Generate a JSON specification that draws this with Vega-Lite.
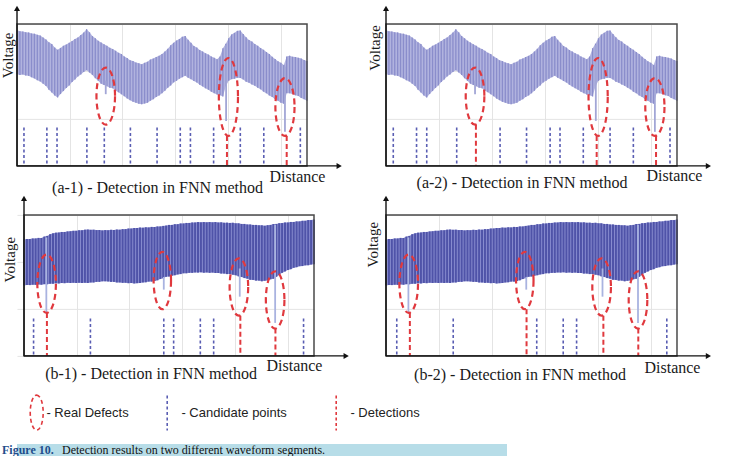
{
  "$schema": "https://vega.github.io/schema/vega-lite/v6.json",
  "background": "white",
  "padding": {"left": -1.0, "top": 4.9, "right": 0, "bottom": 0},
  "spacing": 60,
  "config": {
    "view": {"stroke": null},
    "axis": {"grid": true, "ticks": false, "labels": false, "domain": false, "gridColor": "#e4e4e4", "gridWidth": 1, "titleFont": "Liberation Serif", "titleFontWeight": "normal", "titleFontSize": 16, "titleColor": "#1a1a1a", "titlePadding": 0},
    "title": {"font": "Liberation Serif", "fontSize": 16, "fontWeight": "normal", "color": "#1a1a1a"}
  },
  "datasets": {
    "waveA": [
      {"d":0,"lo":0.645,"hi":0.955},{"d":1,"lo":0.641,"hi":0.949},{"d":2,"lo":0.643,"hi":0.947},{"d":3,"lo":0.636,"hi":0.941},{"d":4,"lo":0.634,"hi":0.940},
      {"d":5,"lo":0.624,"hi":0.933},{"d":6,"lo":0.616,"hi":0.931},{"d":7,"lo":0.603,"hi":0.924},{"d":8,"lo":0.595,"hi":0.919},{"d":9,"lo":0.579,"hi":0.904},
      {"d":10,"lo":0.562,"hi":0.891},{"d":11,"lo":0.537,"hi":0.871},{"d":12,"lo":0.517,"hi":0.858},{"d":13,"lo":0.496,"hi":0.834},{"d":14,"lo":0.482,"hi":0.818},
      {"d":15,"lo":0.506,"hi":0.831},{"d":16,"lo":0.527,"hi":0.846},{"d":17,"lo":0.549,"hi":0.855},{"d":18,"lo":0.567,"hi":0.867},{"d":19,"lo":0.591,"hi":0.879},
      {"d":20,"lo":0.609,"hi":0.894},{"d":21,"lo":0.629,"hi":0.905},{"d":22,"lo":0.644,"hi":0.921},{"d":23,"lo":0.661,"hi":0.939},{"d":24,"lo":0.674,"hi":0.963},
      {"d":25,"lo":0.657,"hi":0.941},{"d":26,"lo":0.641,"hi":0.914},{"d":27,"lo":0.617,"hi":0.899},{"d":28,"lo":0.599,"hi":0.882},{"d":29,"lo":0.579,"hi":0.869},
      {"d":30,"lo":0.569,"hi":0.857},{"d":31,"lo":0.561,"hi":0.846},{"d":32,"lo":0.551,"hi":0.832},{"d":33,"lo":0.546,"hi":0.823},{"d":34,"lo":0.529,"hi":0.811},
      {"d":35,"lo":0.518,"hi":0.797},{"d":36,"lo":0.504,"hi":0.788},{"d":37,"lo":0.491,"hi":0.771},{"d":38,"lo":0.474,"hi":0.759},{"d":39,"lo":0.463,"hi":0.744},
      {"d":40,"lo":0.451,"hi":0.738},{"d":41,"lo":0.445,"hi":0.729},{"d":42,"lo":0.437,"hi":0.723},{"d":43,"lo":0.434,"hi":0.715},{"d":44,"lo":0.439,"hi":0.726},
      {"d":45,"lo":0.445,"hi":0.734},{"d":46,"lo":0.459,"hi":0.749},{"d":47,"lo":0.469,"hi":0.757},{"d":48,"lo":0.485,"hi":0.767},{"d":49,"lo":0.496,"hi":0.775},
      {"d":50,"lo":0.511,"hi":0.788},{"d":51,"lo":0.529,"hi":0.806},{"d":52,"lo":0.550,"hi":0.825},{"d":53,"lo":0.567,"hi":0.849},{"d":54,"lo":0.588,"hi":0.867},
      {"d":55,"lo":0.599,"hi":0.883},{"d":56,"lo":0.614,"hi":0.894},{"d":57,"lo":0.625,"hi":0.909},{"d":58,"lo":0.634,"hi":0.914},{"d":59,"lo":0.621,"hi":0.889},
      {"d":60,"lo":0.611,"hi":0.867},{"d":61,"lo":0.598,"hi":0.844},{"d":62,"lo":0.587,"hi":0.833},{"d":63,"lo":0.571,"hi":0.817},{"d":64,"lo":0.560,"hi":0.806},
      {"d":65,"lo":0.546,"hi":0.793},{"d":66,"lo":0.536,"hi":0.784},{"d":67,"lo":0.522,"hi":0.771},{"d":68,"lo":0.512,"hi":0.761},{"d":69,"lo":0.502,"hi":0.751},
      {"d":70,"lo":0.498,"hi":0.771},{"d":71,"lo":0.489,"hi":0.829},{"d":72,"lo":0.561,"hi":0.861},{"d":73,"lo":0.599,"hi":0.899},{"d":74,"lo":0.611,"hi":0.926},
      {"d":75,"lo":0.614,"hi":0.937},{"d":76,"lo":0.621,"hi":0.951},{"d":77,"lo":0.619,"hi":0.953},{"d":78,"lo":0.609,"hi":0.929},{"d":79,"lo":0.593,"hi":0.906},
      {"d":80,"lo":0.585,"hi":0.887},{"d":81,"lo":0.573,"hi":0.876},{"d":82,"lo":0.564,"hi":0.859},{"d":83,"lo":0.551,"hi":0.846},{"d":84,"lo":0.539,"hi":0.830},
      {"d":85,"lo":0.523,"hi":0.818},{"d":86,"lo":0.511,"hi":0.802},{"d":87,"lo":0.496,"hi":0.788},{"d":88,"lo":0.485,"hi":0.769},{"d":89,"lo":0.469,"hi":0.753},
      {"d":90,"lo":0.458,"hi":0.737},{"d":91,"lo":0.445,"hi":0.726},{"d":92,"lo":0.437,"hi":0.711},{"d":93,"lo":0.511,"hi":0.771},{"d":94,"lo":0.511,"hi":0.776},
      {"d":95,"lo":0.506,"hi":0.769},{"d":96,"lo":0.497,"hi":0.767},{"d":97,"lo":0.493,"hi":0.761},{"d":98,"lo":0.479,"hi":0.756},{"d":99,"lo":0.469,"hi":0.745},
      {"d":100,"lo":0.458,"hi":0.739}
    ],
    "waveB": [
      {"d":0,"lo":0.500,"hi":0.825},{"d":1,"lo":0.503,"hi":0.829},{"d":2,"lo":0.502,"hi":0.829},{"d":3,"lo":0.505,"hi":0.833},{"d":4,"lo":0.504,"hi":0.833},
      {"d":5,"lo":0.507,"hi":0.837},{"d":6,"lo":0.505,"hi":0.836},{"d":7,"lo":0.509,"hi":0.846},{"d":8,"lo":0.508,"hi":0.851},{"d":9,"lo":0.512,"hi":0.863},
      {"d":10,"lo":0.512,"hi":0.869},{"d":11,"lo":0.515,"hi":0.874},{"d":12,"lo":0.514,"hi":0.875},{"d":13,"lo":0.517,"hi":0.879},{"d":14,"lo":0.516,"hi":0.879},
      {"d":15,"lo":0.519,"hi":0.883},{"d":16,"lo":0.517,"hi":0.884},{"d":17,"lo":0.519,"hi":0.887},{"d":18,"lo":0.517,"hi":0.887},{"d":19,"lo":0.519,"hi":0.891},
      {"d":20,"lo":0.517,"hi":0.891},{"d":21,"lo":0.519,"hi":0.895},{"d":22,"lo":0.517,"hi":0.896},{"d":23,"lo":0.521,"hi":0.894},{"d":24,"lo":0.521,"hi":0.895},
      {"d":25,"lo":0.525,"hi":0.892},{"d":26,"lo":0.525,"hi":0.893},{"d":27,"lo":0.529,"hi":0.890},{"d":28,"lo":0.529,"hi":0.892},{"d":29,"lo":0.528,"hi":0.891},
      {"d":30,"lo":0.525,"hi":0.894},{"d":31,"lo":0.525,"hi":0.893},{"d":32,"lo":0.521,"hi":0.896},{"d":33,"lo":0.521,"hi":0.895},{"d":34,"lo":0.518,"hi":0.899},
      {"d":35,"lo":0.519,"hi":0.899},{"d":36,"lo":0.516,"hi":0.903},{"d":37,"lo":0.517,"hi":0.903},{"d":38,"lo":0.514,"hi":0.907},{"d":39,"lo":0.516,"hi":0.907},
      {"d":40,"lo":0.517,"hi":0.910},{"d":41,"lo":0.521,"hi":0.909},{"d":42,"lo":0.522,"hi":0.912},{"d":43,"lo":0.527,"hi":0.911},{"d":44,"lo":0.527,"hi":0.915},
      {"d":45,"lo":0.531,"hi":0.914},{"d":46,"lo":0.536,"hi":0.918},{"d":47,"lo":0.545,"hi":0.918},{"d":48,"lo":0.551,"hi":0.922},{"d":49,"lo":0.561,"hi":0.924},
      {"d":50,"lo":0.563,"hi":0.929},{"d":51,"lo":0.569,"hi":0.929},{"d":52,"lo":0.572,"hi":0.934},{"d":53,"lo":0.578,"hi":0.934},{"d":54,"lo":0.580,"hi":0.939},
      {"d":55,"lo":0.586,"hi":0.939},{"d":56,"lo":0.586,"hi":0.943},{"d":57,"lo":0.589,"hi":0.943},{"d":58,"lo":0.589,"hi":0.946},{"d":59,"lo":0.592,"hi":0.946},
      {"d":60,"lo":0.591,"hi":0.949},{"d":61,"lo":0.593,"hi":0.947},{"d":62,"lo":0.590,"hi":0.949},{"d":63,"lo":0.592,"hi":0.947},{"d":64,"lo":0.589,"hi":0.949},
      {"d":65,"lo":0.591,"hi":0.947},{"d":66,"lo":0.588,"hi":0.949},{"d":67,"lo":0.588,"hi":0.946},{"d":68,"lo":0.584,"hi":0.947},{"d":69,"lo":0.584,"hi":0.944},
      {"d":70,"lo":0.580,"hi":0.945},{"d":71,"lo":0.580,"hi":0.943},{"d":72,"lo":0.576,"hi":0.944},{"d":73,"lo":0.572,"hi":0.940},{"d":74,"lo":0.564,"hi":0.940},
      {"d":75,"lo":0.560,"hi":0.936},{"d":76,"lo":0.552,"hi":0.936},{"d":77,"lo":0.548,"hi":0.932},{"d":78,"lo":0.540,"hi":0.932},{"d":79,"lo":0.539,"hi":0.929},
      {"d":80,"lo":0.534,"hi":0.929},{"d":81,"lo":0.534,"hi":0.926},{"d":82,"lo":0.529,"hi":0.926},{"d":83,"lo":0.533,"hi":0.923},{"d":84,"lo":0.535,"hi":0.927},
      {"d":85,"lo":0.543,"hi":0.929},{"d":86,"lo":0.547,"hi":0.935},{"d":87,"lo":0.561,"hi":0.936},{"d":88,"lo":0.574,"hi":0.941},{"d":89,"lo":0.589,"hi":0.942},
      {"d":90,"lo":0.599,"hi":0.946},{"d":91,"lo":0.609,"hi":0.946},{"d":92,"lo":0.615,"hi":0.950},{"d":93,"lo":0.625,"hi":0.950},{"d":94,"lo":0.629,"hi":0.954},
      {"d":95,"lo":0.636,"hi":0.954},{"d":96,"lo":0.637,"hi":0.958},{"d":97,"lo":0.642,"hi":0.958},{"d":98,"lo":0.643,"hi":0.963},{"d":99,"lo":0.648,"hi":0.963},
      {"d":100,"lo":0.650,"hi":0.967}
    ],
    "spikesA": [{"d":30.6,"lo":0.505,"hi":0.6},{"d":72.1,"lo":0.317,"hi":0.85},{"d":92.4,"lo":0.24,"hi":0.7}],
    "spikesB": [{"d":7.7,"lo":0.31,"hi":0.84},{"d":48.2,"lo":0.47,"hi":0.56},{"d":74.4,"lo":0.42,"hi":0.62},{"d":86.6,"lo":0.234,"hi":0.93}],
    "ringsA": [
      {"id":1,"k":0,"d":30.6,"v":0.692},{"id":1,"k":1,"d":33.8,"v":0.491},{"id":1,"k":2,"d":30.6,"v":0.29},{"id":1,"k":3,"d":27.4,"v":0.491},
      {"id":2,"k":0,"d":72.9,"v":0.76},{"id":2,"k":1,"d":76.2,"v":0.486},{"id":2,"k":2,"d":72.9,"v":0.211},{"id":2,"k":3,"d":69.6,"v":0.486},
      {"id":3,"k":0,"d":92.4,"v":0.618},{"id":3,"k":1,"d":95.7,"v":0.415},{"id":3,"k":2,"d":92.4,"v":0.211},{"id":3,"k":3,"d":89.1,"v":0.415}
    ],
    "ringsB": [
      {"id":1,"k":0,"d":7.8,"v":0.719,"kind":"Real Defects"},{"id":1,"k":1,"d":11.0,"v":0.512,"kind":"Real Defects"},{"id":1,"k":2,"d":7.8,"v":0.305,"kind":"Real Defects"},{"id":1,"k":3,"d":4.6,"v":0.512,"kind":"Real Defects"},
      {"id":2,"k":0,"d":47.7,"v":0.738,"kind":"Real Defects"},{"id":2,"k":1,"d":50.7,"v":0.534,"kind":"Real Defects"},{"id":2,"k":2,"d":47.7,"v":0.331,"kind":"Real Defects"},{"id":2,"k":3,"d":44.7,"v":0.534,"kind":"Real Defects"},
      {"id":3,"k":0,"d":74.1,"v":0.692,"kind":"Real Defects"},{"id":3,"k":1,"d":77.3,"v":0.488,"kind":"Real Defects"},{"id":3,"k":2,"d":74.1,"v":0.285,"kind":"Real Defects"},{"id":3,"k":3,"d":70.9,"v":0.488,"kind":"Real Defects"},
      {"id":4,"k":0,"d":86.6,"v":0.6,"kind":"Real Defects"},{"id":4,"k":1,"d":89.8,"v":0.397,"kind":"Real Defects"},{"id":4,"k":2,"d":86.6,"v":0.194,"kind":"Real Defects"},{"id":4,"k":3,"d":83.4,"v":0.397,"kind":"Real Defects"}
    ],
    "pointsA1": [
      {"d":2.4,"kind":"Candidate points"},{"d":10.3,"kind":"Candidate points"},{"d":13.8,"kind":"Candidate points"},{"d":24.1,"kind":"Candidate points"},
      {"d":30.1,"kind":"Candidate points"},{"d":39.1,"kind":"Candidate points"},{"d":48.3,"kind":"Candidate points"},{"d":56.3,"kind":"Candidate points"},
      {"d":59.8,"kind":"Candidate points"},{"d":67.8,"kind":"Candidate points"},{"d":77.0,"kind":"Candidate points"},{"d":85.1,"kind":"Candidate points"},
      {"d":97.7,"kind":"Candidate points"},
      {"d":72.4,"kind":"Detections","reach":0.211},{"d":93.0,"kind":"Detections","reach":0.211}
    ],
    "pointsA2": [
      {"d":2.5,"kind":"Candidate points"},{"d":10.5,"kind":"Candidate points"},{"d":14.0,"kind":"Candidate points"},{"d":24.3,"kind":"Candidate points"},
      {"d":39.2,"kind":"Candidate points"},{"d":48.3,"kind":"Candidate points"},{"d":56.4,"kind":"Candidate points"},{"d":59.8,"kind":"Candidate points"},
      {"d":67.8,"kind":"Candidate points"},{"d":77.0,"kind":"Candidate points"},{"d":85.0,"kind":"Candidate points"},{"d":97.6,"kind":"Candidate points"},
      {"d":30.9,"kind":"Detections","reach":0.29},{"d":72.4,"kind":"Detections","reach":0.211},{"d":92.8,"kind":"Detections","reach":0.211}
    ],
    "pointsB1": [
      {"d":3.3,"kind":"Candidate points"},{"d":22.9,"kind":"Candidate points"},{"d":48.2,"kind":"Candidate points"},{"d":51.6,"kind":"Candidate points"},
      {"d":60.8,"kind":"Candidate points"},{"d":65.4,"kind":"Candidate points"},{"d":96.4,"kind":"Candidate points"},
      {"d":7.9,"kind":"Detections","reach":0.305},{"d":74.6,"kind":"Detections","reach":0.285},{"d":86.7,"kind":"Detections","reach":0.194}
    ],
    "pointsB2": [
      {"d":3.7,"kind":"Candidate points"},{"d":23.1,"kind":"Candidate points"},{"d":51.8,"kind":"Candidate points"},{"d":60.9,"kind":"Candidate points"},
      {"d":65.5,"kind":"Candidate points"},{"d":96.5,"kind":"Candidate points"},
      {"d":8.2,"kind":"Detections","reach":0.305},{"d":48.3,"kind":"Detections","reach":0.331},{"d":74.7,"kind":"Detections","reach":0.285},{"d":86.7,"kind":"Detections","reach":0.194}
    ]
  },
  "vconcat": [
    {
      "columns": 2,
      "bounds": "flush",
      "spacing": {"row": 49, "column": 72},
      "concat": [
        {
          "width": 290, "height": 142,
          "title": {"text": "(a-1) - Detection in FNN method", "orient": "bottom", "anchor": "middle", "frame": "group", "offset": 8, "dx": -4.5, "baseline": "alphabetic"},
          "layer": [
            {"data": {"name": "waveA"}, "mark": {"type": "area", "color": "#b1b3df", "opacity": 1},
             "encoding": {"x": {"field": "d", "type": "quantitative", "scale": {"domain": [0, 100], "nice": false, "zero": false},
               "axis": {"title": "Distance", "values": [0, 9.09, 18.18, 27.27, 36.36, 45.45, 54.55, 63.64, 72.73, 81.82, 90.91, 100], "titleX": 252, "titleY": 16, "titleAlign": "left", "titleBaseline": "alphabetic"}},
               "y": {"field": "lo", "type": "quantitative", "scale": {"domain": [0, 1], "nice": false, "zero": false},
               "axis": {"title": "Voltage", "values": [0, 0.0833, 0.1667, 0.25, 0.3333, 0.4167, 0.5, 0.5833, 0.6667, 0.75, 0.8333, 0.9167, 1], "titleX": -5, "titleY": 31, "titleAngle": 270, "titleAlign": "center", "titleBaseline": "alphabetic", "titleFontSize": 15}},
               "y2": {"field": "hi"}}},
            {"data": {"name": "waveA"}, "mark": {"type": "rule", "color": "#8a8dcb", "strokeWidth": 1.3},
             "encoding": {"x": {"field": "d", "type": "quantitative"}, "y": {"field": "lo", "type": "quantitative"}, "y2": {"field": "hi"}}},
            {"data": {"name": "spikesA"}, "mark": {"type": "rule", "color": "#a2a6d6", "strokeWidth": 1.8},
             "encoding": {"x": {"field": "d", "type": "quantitative"}, "y": {"field": "lo", "type": "quantitative"}, "y2": {"field": "hi"}}},
            {"data": {"name": "pointsA1"}, "transform": [{"filter": "datum.kind === 'Candidate points'"}],
             "mark": {"type": "rule", "color": "#5a5eb3", "strokeWidth": 1.6, "strokeDash": [3, 2.5]},
             "encoding": {"x": {"field": "d", "type": "quantitative"}, "y": {"datum": 0.27, "type": "quantitative"}, "y2": {"datum": 0}}},
            {"data": {"name": "pointsA1"}, "transform": [{"filter": "datum.kind === 'Detections'"}],
             "mark": {"type": "rule", "color": "#e0393e", "strokeWidth": 2, "strokeDash": [5, 3]},
             "encoding": {"x": {"field": "d", "type": "quantitative"}, "y": {"field": "reach", "type": "quantitative"}, "y2": {"datum": 0}}},
            {"data": {"name": "ringsA"}, "mark": {"type": "line", "interpolate": "cardinal-closed", "tension": -0.656, "color": "#e0393e", "strokeWidth": 2.2, "strokeDash": [6, 4]},
             "encoding": {"x": {"field": "d", "type": "quantitative"}, "y": {"field": "v", "type": "quantitative"}, "detail": {"field": "id", "type": "nominal"}, "order": {"field": "k", "type": "quantitative"}}},
            {"data": {"values": [{"edge": "box"}]}, "mark": {"type": "rect", "filled": false, "color": "#4a4a4a", "strokeWidth": 1.5},
             "encoding": {"x": {"datum": 0, "type": "quantitative"}, "x2": {"datum": 100}, "y": {"datum": 0, "type": "quantitative"}, "y2": {"datum": 1}}},
            {"data": {"values": [{"edge": "v"}]}, "mark": {"type": "rule", "color": "#111111", "strokeWidth": 1.4},
             "encoding": {"x": {"datum": 0, "type": "quantitative"}, "y": {"datum": 0, "type": "quantitative"}, "y2": {"datum": 1.109}}},
            {"data": {"values": [{"edge": "h"}]}, "mark": {"type": "rule", "color": "#111111", "strokeWidth": 1.4},
             "encoding": {"x": {"datum": 0, "type": "quantitative"}, "x2": {"datum": 111.1}, "y": {"datum": 0, "type": "quantitative"}}},
            {"data": {"values": [{"edge": "v"}]}, "mark": {"type": "point", "shape": "triangle-up", "filled": true, "color": "#111111", "size": 36, "opacity": 1},
             "encoding": {"x": {"datum": 0, "type": "quantitative"}, "y": {"datum": 1.109, "type": "quantitative"}}},
            {"data": {"values": [{"edge": "h"}]}, "mark": {"type": "point", "shape": "triangle-right", "filled": true, "color": "#111111", "size": 36, "opacity": 1},
             "encoding": {"x": {"datum": 111.1, "type": "quantitative"}, "y": {"datum": 0, "type": "quantitative"}}}
          ]
        },
        {
          "width": 291, "height": 142,
          "title": {"text": "(a-2) - Detection in FNN method", "orient": "bottom", "anchor": "middle", "frame": "group", "offset": 4, "dx": -9.5, "baseline": "alphabetic"},
          "layer": [
            {"data": {"name": "waveA"}, "mark": {"type": "area", "color": "#b1b3df", "opacity": 1},
             "encoding": {"x": {"field": "d", "type": "quantitative", "scale": {"domain": [0, 100], "nice": false, "zero": false},
               "axis": {"title": "Distance", "values": [0, 9.09, 18.18, 27.27, 36.36, 45.45, 54.55, 63.64, 72.73, 81.82, 90.91, 100], "titleX": 260, "titleY": 15, "titleAlign": "left", "titleBaseline": "alphabetic"}},
               "y": {"field": "lo", "type": "quantitative", "scale": {"domain": [0, 1], "nice": false, "zero": false},
               "axis": {"title": "Voltage", "values": [0, 0.0833, 0.1667, 0.25, 0.3333, 0.4167, 0.5, 0.5833, 0.6667, 0.75, 0.8333, 0.9167, 1], "titleX": -6.7, "titleY": 23.5, "titleAngle": 270, "titleAlign": "center", "titleBaseline": "alphabetic", "titleFontSize": 15}},
               "y2": {"field": "hi"}}},
            {"data": {"name": "waveA"}, "mark": {"type": "rule", "color": "#8a8dcb", "strokeWidth": 1.3},
             "encoding": {"x": {"field": "d", "type": "quantitative"}, "y": {"field": "lo", "type": "quantitative"}, "y2": {"field": "hi"}}},
            {"data": {"name": "spikesA"}, "mark": {"type": "rule", "color": "#a2a6d6", "strokeWidth": 1.8},
             "encoding": {"x": {"field": "d", "type": "quantitative"}, "y": {"field": "lo", "type": "quantitative"}, "y2": {"field": "hi"}}},
            {"data": {"name": "pointsA2"}, "transform": [{"filter": "datum.kind === 'Candidate points'"}],
             "mark": {"type": "rule", "color": "#5a5eb3", "strokeWidth": 1.6, "strokeDash": [3, 2.5]},
             "encoding": {"x": {"field": "d", "type": "quantitative"}, "y": {"datum": 0.27, "type": "quantitative"}, "y2": {"datum": 0}}},
            {"data": {"name": "pointsA2"}, "transform": [{"filter": "datum.kind === 'Detections'"}],
             "mark": {"type": "rule", "color": "#e0393e", "strokeWidth": 2, "strokeDash": [5, 3]},
             "encoding": {"x": {"field": "d", "type": "quantitative"}, "y": {"field": "reach", "type": "quantitative"}, "y2": {"datum": 0}}},
            {"data": {"name": "ringsA"}, "mark": {"type": "line", "interpolate": "cardinal-closed", "tension": -0.656, "color": "#e0393e", "strokeWidth": 2.2, "strokeDash": [6, 4]},
             "encoding": {"x": {"field": "d", "type": "quantitative"}, "y": {"field": "v", "type": "quantitative"}, "detail": {"field": "id", "type": "nominal"}, "order": {"field": "k", "type": "quantitative"}}},
            {"data": {"values": [{"edge": "box"}]}, "mark": {"type": "rect", "filled": false, "color": "#4a4a4a", "strokeWidth": 1.5},
             "encoding": {"x": {"datum": 0, "type": "quantitative"}, "x2": {"datum": 100}, "y": {"datum": 0, "type": "quantitative"}, "y2": {"datum": 1}}},
            {"data": {"values": [{"edge": "v"}]}, "mark": {"type": "rule", "color": "#111111", "strokeWidth": 1.4},
             "encoding": {"x": {"datum": 0, "type": "quantitative"}, "y": {"datum": 0, "type": "quantitative"}, "y2": {"datum": 1.109}}},
            {"data": {"values": [{"edge": "h"}]}, "mark": {"type": "rule", "color": "#111111", "strokeWidth": 1.4},
             "encoding": {"x": {"datum": 0, "type": "quantitative"}, "x2": {"datum": 110.8}, "y": {"datum": 0, "type": "quantitative"}}},
            {"data": {"values": [{"edge": "v"}]}, "mark": {"type": "point", "shape": "triangle-up", "filled": true, "color": "#111111", "size": 36, "opacity": 1},
             "encoding": {"x": {"datum": 0, "type": "quantitative"}, "y": {"datum": 1.109, "type": "quantitative"}}},
            {"data": {"values": [{"edge": "h"}]}, "mark": {"type": "point", "shape": "triangle-right", "filled": true, "color": "#111111", "size": 36, "opacity": 1},
             "encoding": {"x": {"datum": 110.8, "type": "quantitative"}, "y": {"datum": 0, "type": "quantitative"}}}
          ]
        },
        {
          "width": 297, "height": 141,
          "title": {"text": "(b-1) - Detection in FNN method", "orient": "bottom", "anchor": "middle", "frame": "group", "offset": 6, "dx": -14.5, "baseline": "alphabetic"},
          "layer": [
            {"data": {"name": "waveB"}, "mark": {"type": "area", "color": "#8c90d2", "opacity": 1},
             "encoding": {"x": {"field": "d", "type": "quantitative", "scale": {"domain": [-2.414, 100], "nice": false, "zero": false},
               "axis": {"title": "Distance", "values": [0, 9.09, 18.18, 27.27, 36.36, 45.45, 54.55, 63.64, 72.73, 81.82, 90.91, 100], "titleX": 249, "titleY": 14.5, "titleAlign": "left", "titleBaseline": "alphabetic"}},
               "y": {"field": "lo", "type": "quantitative", "scale": {"domain": [0, 1], "nice": false, "zero": false},
               "axis": {"title": "Voltage", "values": [0, 0.0833, 0.1667, 0.25, 0.3333, 0.4167, 0.5, 0.5833, 0.6667, 0.75, 0.8333, 0.9167, 1], "titleX": -2.7, "titleY": 44.3, "titleAngle": 270, "titleAlign": "center", "titleBaseline": "alphabetic", "titleFontSize": 15}},
               "y2": {"field": "hi"}}},
            {"data": {"name": "waveB"}, "mark": {"type": "rule", "color": "#4f53a8", "strokeWidth": 2},
             "encoding": {"x": {"field": "d", "type": "quantitative"}, "y": {"field": "lo", "type": "quantitative"}, "y2": {"field": "hi"}}},
            {"data": {"name": "spikesB"}, "mark": {"type": "rule", "color": "#a9b3e0", "strokeWidth": 1.8},
             "encoding": {"x": {"field": "d", "type": "quantitative"}, "y": {"field": "lo", "type": "quantitative"}, "y2": {"field": "hi"}}},
            {"data": {"name": "pointsB1"}, "transform": [{"filter": "datum.kind === 'Candidate points'"}],
             "mark": {"type": "rule", "color": "#5a5eb3", "strokeWidth": 1.6, "strokeDash": [3, 2.5]},
             "encoding": {"x": {"field": "d", "type": "quantitative"}, "y": {"datum": 0.265, "type": "quantitative"}, "y2": {"datum": 0}}},
            {"data": {"name": "pointsB1"}, "transform": [{"filter": "datum.kind === 'Detections'"}],
             "mark": {"type": "rule", "strokeWidth": 2, "strokeDash": [5, 3]},
             "encoding": {"x": {"field": "d", "type": "quantitative"}, "y": {"field": "reach", "type": "quantitative"}, "y2": {"datum": 0},
               "color": {"field": "kind", "type": "nominal",
                 "scale": {"domain": ["Candidate points", "Detections"], "range": ["#5a5eb3", "#e0393e"]},
                 "legend": {"orient": "none", "legendX": 131.7, "legendY": 370.2, "direction": "horizontal", "title": null, "padding": 0,
                   "symbolType": "M0,-1L0,1", "symbolSize": 1225, "symbolStrokeWidth": 1.6, "symbolDash": [3, 2.5], "symbolFillColor": "transparent",
                   "labelFont": "Liberation Sans", "labelFontSize": 13, "labelColor": "#222222", "labelOffset": -4.3, "labelLimit": 400,
                   "columnPadding": 30, "labelExpr": "'- ' + datum.label"}}}},
            {"data": {"name": "ringsB"}, "mark": {"type": "line", "interpolate": "cardinal-closed", "tension": -0.656, "strokeWidth": 2.2, "strokeDash": [6, 4]},
             "encoding": {"x": {"field": "d", "type": "quantitative"}, "y": {"field": "v", "type": "quantitative"}, "detail": {"field": "id", "type": "nominal"}, "order": {"field": "k", "type": "quantitative"},
               "stroke": {"field": "kind", "type": "nominal",
                 "scale": {"domain": ["Real Defects"], "range": ["#e0393e"]},
                 "legend": {"orient": "none", "legendX": 1.2, "legendY": 370.2, "title": null, "padding": 0,
                   "symbolType": "M0,-1A0.37,1 0 1,1 0,1A0.37,1 0 1,1 0,-1Z", "symbolSize": 1225, "symbolStrokeWidth": 1.6, "symbolDash": [4, 3], "symbolFillColor": "transparent",
                   "labelFont": "Liberation Sans", "labelFontSize": 13, "labelColor": "#222222", "labelOffset": -8.8, "labelLimit": 400,
                   "labelExpr": "'- ' + datum.label"}}}},
            {"data": {"values": [{"edge": "box"}]}, "mark": {"type": "rect", "filled": false, "color": "#4a4a4a", "strokeWidth": 1.5},
             "encoding": {"x": {"datum": 0, "type": "quantitative"}, "x2": {"datum": 100}, "y": {"datum": 0, "type": "quantitative"}, "y2": {"datum": 1}}},
            {"data": {"values": [{"edge": "v"}]}, "mark": {"type": "rule", "color": "#111111", "strokeWidth": 1.4},
             "encoding": {"x": {"datum": 0, "type": "quantitative"}, "y": {"datum": 0, "type": "quantitative"}, "y2": {"datum": 1.117}}},
            {"data": {"values": [{"edge": "h"}]}, "mark": {"type": "rule", "color": "#111111", "strokeWidth": 1.4},
             "encoding": {"x": {"datum": 0, "type": "quantitative"}, "x2": {"datum": 111.1}, "y": {"datum": 0, "type": "quantitative"}}},
            {"data": {"values": [{"edge": "v"}]}, "mark": {"type": "point", "shape": "triangle-up", "filled": true, "color": "#111111", "size": 36, "opacity": 1},
             "encoding": {"x": {"datum": 0, "type": "quantitative"}, "y": {"datum": 1.117, "type": "quantitative"}}},
            {"data": {"values": [{"edge": "h"}]}, "mark": {"type": "point", "shape": "triangle-right", "filled": true, "color": "#111111", "size": 36, "opacity": 1},
             "encoding": {"x": {"datum": 111.1, "type": "quantitative"}, "y": {"datum": 0, "type": "quantitative"}}}
          ]
        },
        {
          "width": 291, "height": 141,
          "title": {"text": "(b-2) - Detection in FNN method", "orient": "bottom", "anchor": "middle", "frame": "group", "offset": 5, "dx": -11.5, "baseline": "alphabetic"},
          "layer": [
            {"data": {"name": "waveB"}, "mark": {"type": "area", "color": "#8c90d2", "opacity": 1},
             "encoding": {"x": {"field": "d", "type": "quantitative", "scale": {"domain": [0, 100], "nice": false, "zero": false},
               "axis": {"title": "Distance", "values": [0, 9.09, 18.18, 27.27, 36.36, 45.45, 54.55, 63.64, 72.73, 81.82, 90.91, 100], "titleX": 258, "titleY": 16.5, "titleAlign": "left", "titleBaseline": "alphabetic"}},
               "y": {"field": "lo", "type": "quantitative", "scale": {"domain": [0, 1], "nice": false, "zero": false},
               "axis": {"title": "Voltage", "values": [0, 0.0833, 0.1667, 0.25, 0.3333, 0.4167, 0.5, 0.5833, 0.6667, 0.75, 0.8333, 0.9167, 1], "titleX": -8.3, "titleY": 29.3, "titleAngle": 270, "titleAlign": "center", "titleBaseline": "alphabetic", "titleFontSize": 15}},
               "y2": {"field": "hi"}}},
            {"data": {"name": "waveB"}, "mark": {"type": "rule", "color": "#4f53a8", "strokeWidth": 2},
             "encoding": {"x": {"field": "d", "type": "quantitative"}, "y": {"field": "lo", "type": "quantitative"}, "y2": {"field": "hi"}}},
            {"data": {"name": "spikesB"}, "mark": {"type": "rule", "color": "#a9b3e0", "strokeWidth": 1.8},
             "encoding": {"x": {"field": "d", "type": "quantitative"}, "y": {"field": "lo", "type": "quantitative"}, "y2": {"field": "hi"}}},
            {"data": {"name": "pointsB2"}, "transform": [{"filter": "datum.kind === 'Candidate points'"}],
             "mark": {"type": "rule", "color": "#5a5eb3", "strokeWidth": 1.6, "strokeDash": [3, 2.5]},
             "encoding": {"x": {"field": "d", "type": "quantitative"}, "y": {"datum": 0.265, "type": "quantitative"}, "y2": {"datum": 0}}},
            {"data": {"name": "pointsB2"}, "transform": [{"filter": "datum.kind === 'Detections'"}],
             "mark": {"type": "rule", "color": "#e0393e", "strokeWidth": 2, "strokeDash": [5, 3]},
             "encoding": {"x": {"field": "d", "type": "quantitative"}, "y": {"field": "reach", "type": "quantitative"}, "y2": {"datum": 0}}},
            {"data": {"name": "ringsB"}, "mark": {"type": "line", "interpolate": "cardinal-closed", "tension": -0.656, "color": "#e0393e", "strokeWidth": 2.2, "strokeDash": [6, 4]},
             "encoding": {"x": {"field": "d", "type": "quantitative"}, "y": {"field": "v", "type": "quantitative"}, "detail": {"field": "id", "type": "nominal"}, "order": {"field": "k", "type": "quantitative"}}},
            {"data": {"values": [{"edge": "box"}]}, "mark": {"type": "rect", "filled": false, "color": "#4a4a4a", "strokeWidth": 1.5},
             "encoding": {"x": {"datum": 0, "type": "quantitative"}, "x2": {"datum": 100}, "y": {"datum": 0, "type": "quantitative"}, "y2": {"datum": 1}}},
            {"data": {"values": [{"edge": "v"}]}, "mark": {"type": "rule", "color": "#111111", "strokeWidth": 1.4},
             "encoding": {"x": {"datum": 0, "type": "quantitative"}, "y": {"datum": 0, "type": "quantitative"}, "y2": {"datum": 1.117}}},
            {"data": {"values": [{"edge": "h"}]}, "mark": {"type": "rule", "color": "#111111", "strokeWidth": 1.4},
             "encoding": {"x": {"datum": 0, "type": "quantitative"}, "x2": {"datum": 110.8}, "y": {"datum": 0, "type": "quantitative"}}},
            {"data": {"values": [{"edge": "v"}]}, "mark": {"type": "point", "shape": "triangle-up", "filled": true, "color": "#111111", "size": 36, "opacity": 1},
             "encoding": {"x": {"datum": 0, "type": "quantitative"}, "y": {"datum": 1.117, "type": "quantitative"}}},
            {"data": {"values": [{"edge": "h"}]}, "mark": {"type": "point", "shape": "triangle-right", "filled": true, "color": "#111111", "size": 36, "opacity": 1},
             "encoding": {"x": {"datum": 110.8, "type": "quantitative"}, "y": {"datum": 0, "type": "quantitative"}}}
          ]
        }
      ]
    },
    {
      "width": 490, "height": 30,
      "view": {"fill": "#b7dde8", "stroke": null},
      "data": {"values": [{"line": "caption"}]},
      "layer": [
        {"mark": {"type": "text", "text": "Figure 10.", "align": "left", "baseline": "alphabetic", "font": "Liberation Serif", "fontSize": 12, "fontWeight": "bold", "color": "#1f4e8c", "dx": -15, "dy": -5},
         "encoding": {"x": {"datum": 0, "type": "quantitative", "scale": {"domain": [0, 1]}, "axis": null}}},
        {"mark": {"type": "text", "text": "Detection results on two different waveform segments.", "align": "left", "baseline": "alphabetic", "font": "Liberation Serif", "fontSize": 12, "color": "#111111", "dx": 45, "dy": -5},
         "encoding": {"x": {"datum": 0, "type": "quantitative"}}}
      ]
    }
  ]
}
